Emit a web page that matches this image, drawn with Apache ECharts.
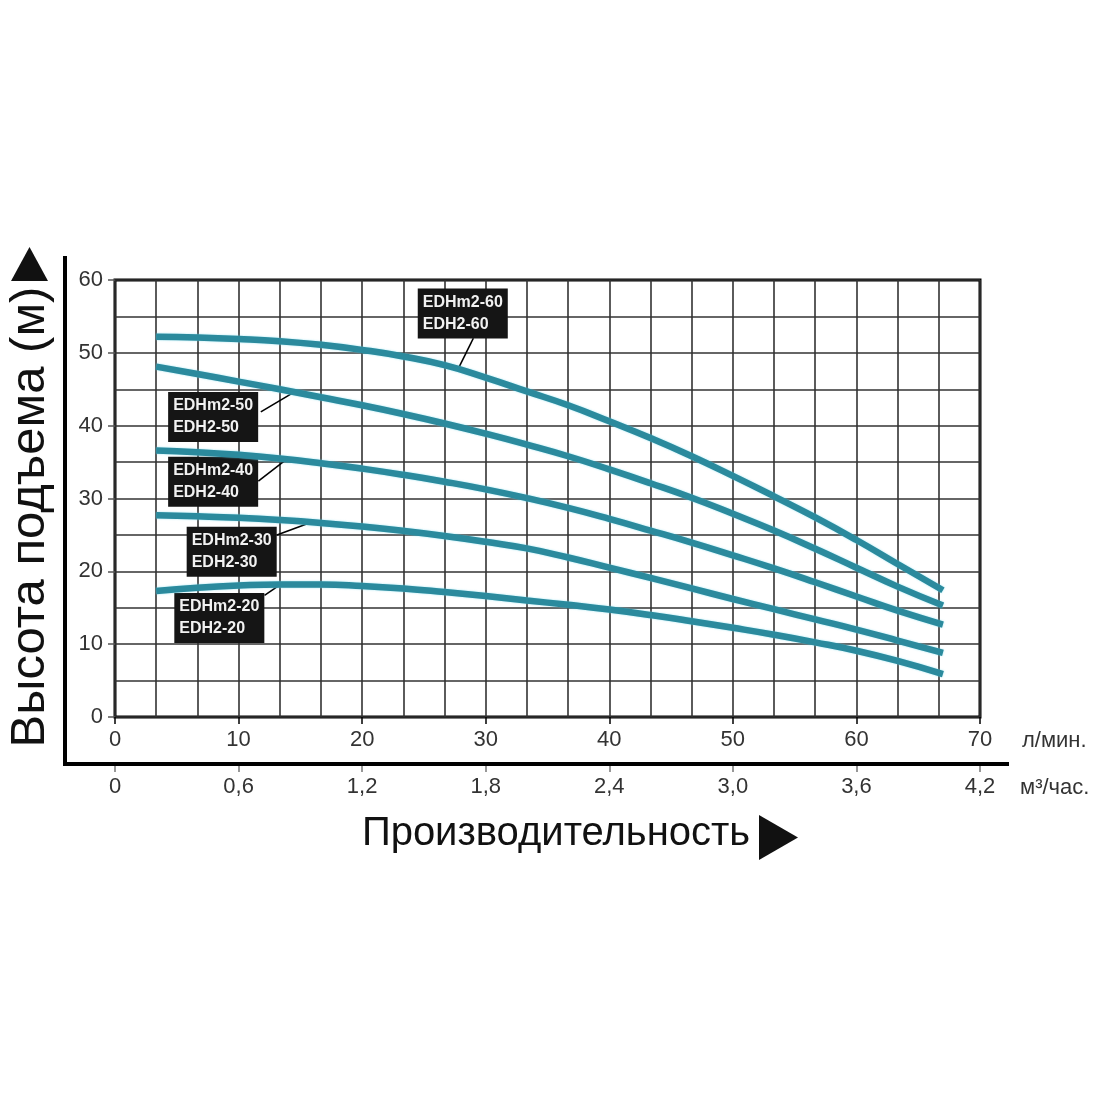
<!DOCTYPE html>
<html>
<head>
<meta charset="utf-8">
<script src="https://cdn.jsdelivr.net/npm/echarts@6/dist/echarts.min.js"></script>
<style>html,body{margin:0;padding:0;background:#fff}#c{width:1100px;height:1100px}</style>
</head>
<body>
<div id="c"></div>
<script>
// Flow rate, l/min
var flowLpm = [3.33, 6.67, 10, 13.33, 16.67, 20, 23.33, 26.67, 30, 33.33, 36.67, 40, 43.33, 46.67, 50, 53.33, 56.67, 60, 63.33, 67];
// Head, m
var head60 = [52.2, 52.1, 51.9, 51.6, 51.1, 50.4, 49.5, 48.3, 46.6, 44.7, 42.8, 40.6, 38.3, 35.8, 33.1, 30.3, 27.4, 24.3, 21.0, 17.4];
var head50 = [48.1, 47.1, 46.05, 45.0, 43.9, 42.8, 41.6, 40.3, 38.9, 37.4, 35.8, 34.0, 32.1, 30.1, 27.9, 25.6, 23.1, 20.5, 17.9, 15.3];
var head40 = [36.6, 36.35, 36.0, 35.5, 34.85, 34.1, 33.25, 32.3, 31.25, 30.05, 28.7, 27.2, 25.6, 23.95, 22.2, 20.4, 18.5, 16.55, 14.6, 12.7];
var head30 = [27.7, 27.55, 27.35, 27.05, 26.65, 26.15, 25.55, 24.85, 24.05, 23.15, 21.9, 20.5, 19.1, 17.65, 16.2, 14.8, 13.4, 12.0, 10.5, 8.8];
var head20 = [17.3, 17.75, 18.05, 18.2, 18.2, 18.0, 17.65, 17.15, 16.6, 16.0, 15.4, 14.75, 14.0, 13.15, 12.25, 11.3, 10.25, 9.1, 7.7, 5.9];
var modelNames = ['EDHm2-60\nEDH2-60', 'EDHm2-50\nEDH2-50', 'EDHm2-40\nEDH2-40', 'EDHm2-30\nEDH2-30', 'EDHm2-20\nEDH2-20'];
var lpmTicks = [0, 10, 20, 30, 40, 50, 60, 70];
var m3hTicks = [0, 0.6, 1.2, 1.8, 2.4, 3.0, 3.6, 4.2];
var headTicks = [0, 10, 20, 30, 40, 50, 60];
var yTitle = 'Высота подъема (м)';
var xTitle = 'Производительность';
var unitLpm = 'л/мин.';
var unitM3h = 'м³/час.';

var heads = [head60, head50, head40, head30, head20];
// annotation placement (data coords): box left-middle, leader start, leader end
var annot = [
  {box: [24.5, 55.4], a: [29.0, 52.0], b: [27.8, 47.9]},
  {box: [4.3, 41.2], a: [11.8, 41.9], b: [14.6, 44.7]},
  {box: [4.3, 32.3], a: [11.6, 32.4], b: [13.9, 35.4]},
  {box: [5.8, 22.7], a: [13.1, 25.0], b: [16.0, 26.8]},
  {box: [4.8, 13.6], a: [12.1, 16.7], b: [13.4, 18.2]}
];

var chart = echarts.init(document.getElementById('c'), null, {renderer: 'canvas'});
var tickFont = {fontFamily: '"Liberation Sans", Arial, sans-serif', fontSize: 22, color: '#333'};

var series = heads.map(function (h, i) {
  return {
    type: 'line',
    xAxisIndex: 0, yAxisIndex: 0,
    data: flowLpm.map(function (x, j) { return [x, h[j]]; }),
    smooth: true,
    symbol: 'none',
    z: 5,
    lineStyle: {color: '#2b8a9d', width: 6.5, cap: 'butt', shadowColor: 'rgba(110,215,235,0.7)', shadowBlur: 2},
    markLine: {
      silent: true, symbol: 'none', animation: false,
      lineStyle: {color: '#000', width: 1.6, type: 'solid'},
      label: {show: false},
      data: [[{coord: annot[i].a}, {coord: annot[i].b}]]
    },
    markPoint: {
      silent: true, animation: false,
      symbol: 'rect', symbolSize: 0,
      label: {
        show: true, position: 'inside',
        formatter: modelNames[i],
        backgroundColor: '#151515', color: '#f2f2f2',
        fontFamily: '"Liberation Sans", Arial, sans-serif', fontWeight: 'bold', fontSize: 16, lineHeight: 22,
        padding: [3, 5, 3, 5], align: 'left'
      },
      data: [{coord: annot[i].box, value: 0}]
    }
  };
});

var option = {
  animation: false,
  grid: {left: 115, right: 120, top: 280, bottom: 383, show: true, borderColor: '#000', borderWidth: 3, backgroundColor: 'transparent'},
  xAxis: [
    {type: 'value', min: lpmTicks[0], max: lpmTicks[lpmTicks.length - 1], interval: 10, position: 'bottom',
      axisLine: {show: false}, splitLine: {show: false},
      axisTick: {show: true, length: 7, lineStyle: {color: '#000', width: 1.5}},
      axisLabel: Object.assign({margin: 12}, tickFont)},
    {type: 'value', min: 0, max: 21, interval: 1, position: 'top',
      axisLine: {show: false}, axisTick: {show: false}, axisLabel: {show: false},
      splitLine: {show: true, lineStyle: {color: '#333', width: 1.6}}},
    {type: 'value', min: m3hTicks[0], max: m3hTicks[m3hTicks.length - 1], interval: 0.6, position: 'bottom', offset: 48,
      axisLine: {show: false}, splitLine: {show: false},
      axisTick: {show: true, length: 7, lineStyle: {color: '#777', width: 1.5}},
      axisLabel: Object.assign({margin: 11, formatter: function (v) { return v === 0 ? '0' : v.toFixed(1).replace('.', ','); }}, tickFont)}
  ],
  yAxis: [
    {type: 'value', min: headTicks[0], max: headTicks[headTicks.length - 1], interval: 10,
      axisLine: {show: false}, splitLine: {show: false},
      axisTick: {show: true, length: 7, lineStyle: {color: '#555', width: 1.5}},
      axisLabel: Object.assign({margin: 12}, tickFont)},
    {type: 'value', min: 0, max: 12, interval: 1, position: 'right',
      axisLine: {show: false}, axisTick: {show: false}, axisLabel: {show: false},
      splitLine: {show: true, lineStyle: {color: '#333', width: 1.6}}}
  ],
  graphic: [
    {type: 'polyline', shape: {points: [[65, 256], [65, 764], [1009, 764]]}, style: {stroke: '#000', lineWidth: 4, fill: null}, z: 10},
    {type: 'polygon', shape: {points: [[11, 281], [48, 281], [29.5, 247]]}, style: {fill: '#111'}},
    {type: 'polygon', shape: {points: [[759, 815], [759, 860], [798, 837.5]]}, style: {fill: '#111'}},
    {type: 'text', x: 30, y: 517, rotation: Math.PI / 2,
      style: {text: yTitle, font: '49px "Liberation Sans", Arial', fill: '#111', textAlign: 'center', textVerticalAlign: 'middle'}},
    {type: 'text', x: 556, y: 834,
      style: {text: xTitle, font: '40px "Liberation Sans", Arial', fill: '#111', textAlign: 'center', textVerticalAlign: 'middle'}},
    {type: 'text', x: 1022, y: 741,
      style: {text: unitLpm, font: '22px "Liberation Sans", Arial', fill: '#333', textAlign: 'left', textVerticalAlign: 'middle'}},
    {type: 'text', x: 1020, y: 788,
      style: {text: unitM3h, font: '22px "Liberation Sans", Arial', fill: '#333', textAlign: 'left', textVerticalAlign: 'middle'}}
  ],
  series: series
};
chart.setOption(option);
</script>
</body>
</html>
